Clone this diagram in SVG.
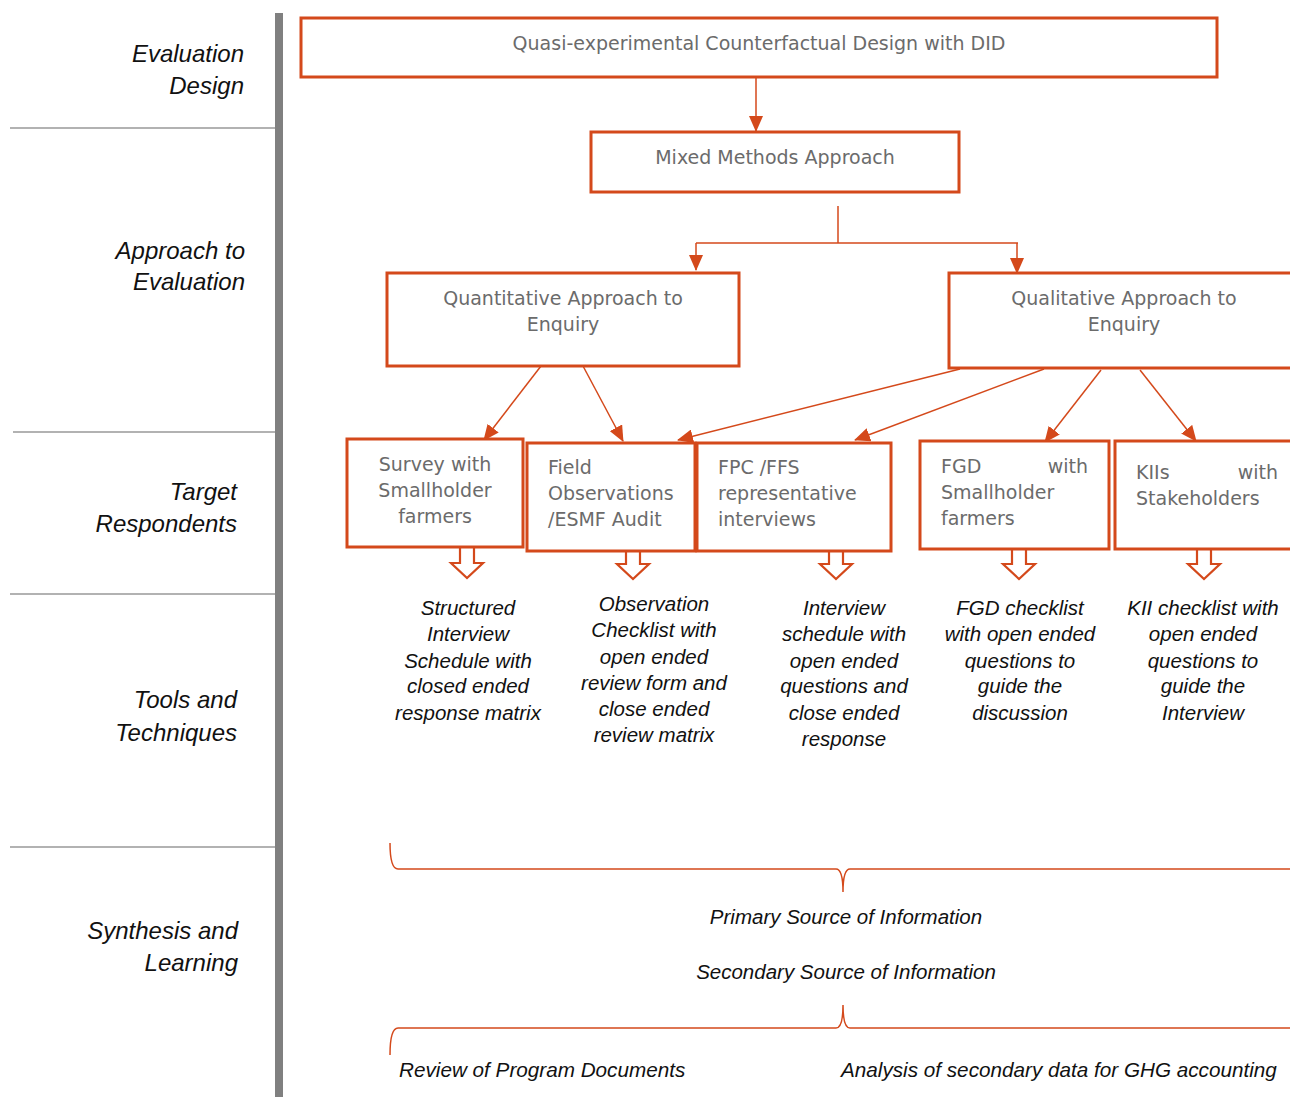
<svg xmlns="http://www.w3.org/2000/svg" width="1290" height="1097" viewBox="0 0 1290 1097">
  <style>
    .box { fill: #ffffff; stroke: #d4491b; stroke-width: 3; }
    .btxt { font-family: "DejaVu Sans", "Liberation Sans", sans-serif; font-size: 19px; fill: #6b6b6b; }
    .lane { font-family: "Liberation Sans", Arial, sans-serif; font-size: 24px; font-style: italic; fill: #111111; text-anchor: end; }
    .tool { font-family: "Liberation Sans", Arial, sans-serif; font-size: 20.5px; font-style: italic; fill: #111111; text-anchor: middle; }
    .note { font-family: "Liberation Sans", Arial, sans-serif; font-size: 20.7px; font-style: italic; fill: #111111; }
    .conn { stroke: #d4491b; stroke-width: 1.5; fill: none; }
    .sep { stroke: #999999; stroke-width: 1.5; }
    .brace { stroke: #d4491b; stroke-width: 1.5; fill: none; }
    .blk { fill: #ffffff; stroke: #d4491b; stroke-width: 2.2; stroke-linejoin: miter; }
  </style>
  <defs>
    <marker id="ah" markerUnits="userSpaceOnUse" markerWidth="16" markerHeight="14" refX="15" refY="7" orient="auto">
      <path d="M0,0 L16,7 L0,14 z" fill="#d4491b"/>
    </marker>
    <!-- hollow block arrow pointing down, origin at top centre -->
    <path id="blockArrow" class="blk" d="M-7,0 V15 H-16 L0,30 L16,15 H7 V0"/>
  </defs>

  <rect width="1290" height="1097" fill="#ffffff"/>

  <!-- lane labels and dividers -->
  <g id="lanes">
    <rect x="275" y="13" width="8" height="1084" fill="#808080"/>
    <line class="sep" x1="10" y1="128" x2="275" y2="128"/>
    <line class="sep" x1="13" y1="432" x2="275" y2="432"/>
    <line class="sep" x1="10" y1="594" x2="275" y2="594"/>
    <line class="sep" x1="10" y1="847" x2="275" y2="847"/>
    <text class="lane" x="244" y="62">Evaluation</text>
    <text class="lane" x="244" y="94">Design</text>
    <text class="lane" x="245" y="259">Approach to</text>
    <text class="lane" x="245" y="290">Evaluation</text>
    <text class="lane" x="237" y="500">Target</text>
    <text class="lane" x="237" y="532">Respondents</text>
    <text class="lane" x="237" y="708">Tools and</text>
    <text class="lane" x="237" y="741">Techniques</text>
    <text class="lane" x="238" y="939">Synthesis and</text>
    <text class="lane" x="238" y="971">Learning</text>
  </g>

  <!-- connectors -->
  <g id="connectors">
    <line class="conn" x1="756" y1="77" x2="756" y2="131" marker-end="url(#ah)"/>
    <line class="conn" x1="838" y1="206" x2="838" y2="243"/>
    <line class="conn" x1="696" y1="243" x2="1018" y2="243"/>
    <line class="conn" x1="696" y1="243" x2="696" y2="270" marker-end="url(#ah)"/>
    <line class="conn" x1="1017" y1="243" x2="1017" y2="273" marker-end="url(#ah)"/>
    <line class="conn" x1="541" y1="366" x2="484" y2="440" marker-end="url(#ah)"/>
    <line class="conn" x1="583" y1="366" x2="623" y2="441" marker-end="url(#ah)"/>
    <line class="conn" x1="960" y1="369" x2="678" y2="440" marker-end="url(#ah)"/>
    <line class="conn" x1="1044" y1="369" x2="855" y2="440" marker-end="url(#ah)"/>
    <line class="conn" x1="1101" y1="370" x2="1045" y2="442" marker-end="url(#ah)"/>
    <line class="conn" x1="1140" y1="370" x2="1196" y2="441" marker-end="url(#ah)"/>
    <!-- block arrows from respondents to tools -->
    <use href="#blockArrow" x="467" y="548"/>
    <use href="#blockArrow" x="633" y="549"/>
    <use href="#blockArrow" x="836" y="549"/>
    <use href="#blockArrow" x="1019" y="549"/>
    <use href="#blockArrow" x="1204" y="549"/>
    <!-- braces -->
    <path class="brace" d="M390,843 Q390,869 398,869 H836 Q843,869 843,892 Q843,869 850,869 H1290"/>
    <path class="brace" d="M390,1055 Q390,1028 398,1028 H836 Q843,1028 843,1005 Q843,1028 850,1028 H1290"/>
  </g>

  <g id="design">
    <rect class="box" x="301" y="18" width="916" height="59"/>
    <text class="btxt" x="759" y="50" text-anchor="middle">Quasi-experimental Counterfactual Design with DID</text>
  </g>
  <g id="mixed">
    <rect class="box" x="591" y="132" width="368" height="60"/>
    <text class="btxt" x="775" y="164" text-anchor="middle">Mixed Methods Approach</text>
  </g>
  <g id="quantitative">
    <rect class="box" x="387" y="273" width="352" height="93"/>
    <text class="btxt" x="563" y="305" text-anchor="middle">Quantitative Approach to</text>
    <text class="btxt" x="563" y="331" text-anchor="middle">Enquiry</text>
  </g>
  <g id="qualitative">
    <rect class="box" x="949" y="273" width="345" height="95"/>
    <text class="btxt" x="1124" y="305" text-anchor="middle">Qualitative Approach to</text>
    <text class="btxt" x="1124" y="331" text-anchor="middle">Enquiry</text>
  </g>
  <g id="survey">
    <rect class="box" x="347" y="439" width="176" height="108"/>
    <text class="btxt" x="435" y="471" text-anchor="middle">Survey with</text>
    <text class="btxt" x="435" y="497" text-anchor="middle">Smallholder</text>
    <text class="btxt" x="435" y="523" text-anchor="middle">farmers</text>
  </g>
  <g id="field">
    <rect class="box" x="527" y="443" width="168" height="108"/>
    <text class="btxt" x="548" y="474">Field</text>
    <text class="btxt" x="548" y="500">Observations</text>
    <text class="btxt" x="548" y="526">/ESMF Audit</text>
  </g>
  <g id="fpc">
    <rect class="box" x="697" y="443" width="194" height="108"/>
    <text class="btxt" x="718" y="474">FPC /FFS</text>
    <text class="btxt" x="718" y="500">representative</text>
    <text class="btxt" x="718" y="526">interviews</text>
  </g>
  <g id="fgd">
    <rect class="box" x="920" y="441" width="189" height="108"/>
    <text class="btxt" x="941" y="473">FGD</text>
    <text class="btxt" x="1088" y="473" text-anchor="end">with</text>
    <text class="btxt" x="941" y="499">Smallholder</text>
    <text class="btxt" x="941" y="525">farmers</text>
  </g>
  <g id="kii">
    <rect class="box" x="1115" y="441" width="180" height="108"/>
    <text class="btxt" x="1136" y="479">KIIs</text>
    <text class="btxt" x="1278" y="479" text-anchor="end">with</text>
    <text class="btxt" x="1136" y="505">Stakeholders</text>
  </g>

  <!-- tools and techniques -->
  <g id="tools">
    <text class="tool" x="468" y="615">Structured</text>
    <text class="tool" x="468" y="641">Interview</text>
    <text class="tool" x="468" y="668">Schedule with</text>
    <text class="tool" x="468" y="693">closed ended</text>
    <text class="tool" x="468" y="720">response matrix</text>

    <text class="tool" x="654" y="611">Observation</text>
    <text class="tool" x="654" y="637">Checklist with</text>
    <text class="tool" x="654" y="664">open ended</text>
    <text class="tool" x="654" y="690">review form and</text>
    <text class="tool" x="654" y="716">close ended</text>
    <text class="tool" x="654" y="742">review matrix</text>

    <text class="tool" x="844" y="615">Interview</text>
    <text class="tool" x="844" y="641">schedule with</text>
    <text class="tool" x="844" y="668">open ended</text>
    <text class="tool" x="844" y="693">questions and</text>
    <text class="tool" x="844" y="720">close ended</text>
    <text class="tool" x="844" y="746">response</text>

    <text class="tool" x="1020" y="615">FGD checklist</text>
    <text class="tool" x="1020" y="641">with open ended</text>
    <text class="tool" x="1020" y="668">questions to</text>
    <text class="tool" x="1020" y="693">guide the</text>
    <text class="tool" x="1020" y="720">discussion</text>

    <text class="tool" x="1203" y="615">KII checklist with</text>
    <text class="tool" x="1203" y="641">open ended</text>
    <text class="tool" x="1203" y="668">questions to</text>
    <text class="tool" x="1203" y="693">guide the</text>
    <text class="tool" x="1203" y="720">Interview</text>
  </g>

  <!-- synthesis -->
  <g id="synthesis">
    <text class="tool" x="846" y="924">Primary Source of Information</text>
    <text class="tool" x="846" y="979">Secondary Source of Information</text>
    <text class="note" x="399" y="1077">Review of Program Documents</text>
    <text class="note" x="841" y="1077">Analysis of secondary data for GHG accounting</text>
  </g>
</svg>
